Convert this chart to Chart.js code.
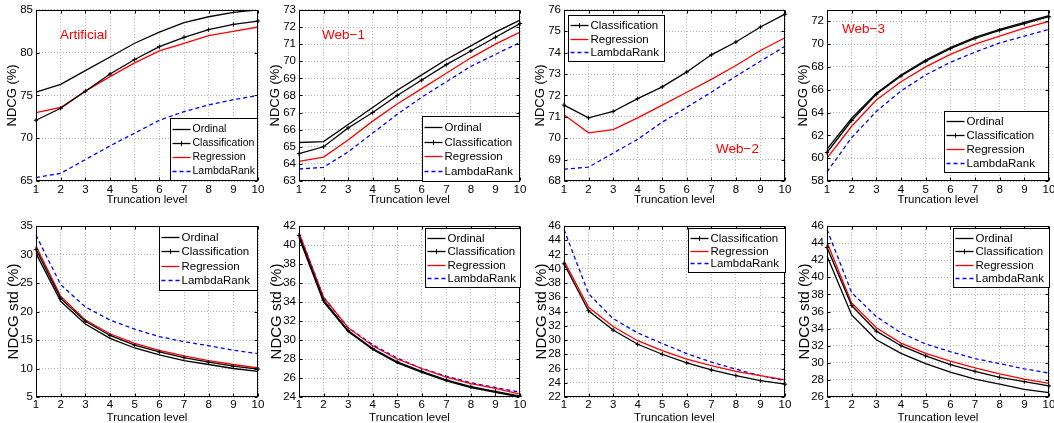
<!DOCTYPE html>
<html>
<head>
<meta charset="utf-8">
<script src="https://cdn.jsdelivr.net/npm/chart.js@4.4.1/dist/chart.umd.min.js"></script>
<style>
  html, body { margin: 0; padding: 0; background: #fff; overflow: hidden; }
  #wrap { position: relative; width: 1054px; height: 423px; overflow: hidden; }
  #wrap canvas { position: absolute; }
</style>
</head>
<body>
<div id="wrap"></div>
<script>
const levels = ['1', '2', '3', '4', '5', '6', '7', '8', '9', '10'];

// NDCG (%) - top row
const artOrd = [75.4, 76.3, 77.9, 79.5, 81.1, 82.4, 83.5, 84.2, 84.7, 85.0];
const artCls = [72.1, 73.5, 75.5, 77.5, 79.2, 80.7, 81.8, 82.7, 83.3, 83.7];
const artReg = [73.0, 73.6, 75.5, 77.2, 78.8, 80.2, 81.1, 82.0, 82.5, 83.0];
const artLam = [65.4, 65.9, 67.5, 69.1, 70.6, 72.1, 73.1, 73.9, 74.5, 75.0];

const w1Ord = [65.25, 65.3, 66.3, 67.3, 68.3, 69.2, 70.1, 70.9, 71.7, 72.4];
const w1Cls = [64.6, 65.0, 66.1, 67.0, 68.0, 68.9, 69.8, 70.6, 71.4, 72.2];
const w1Reg = [64.15, 64.4, 65.4, 66.5, 67.5, 68.4, 69.3, 70.2, 71.0, 71.7];
const w1Lam = [63.7, 63.8, 64.7, 65.8, 66.9, 67.9, 68.8, 69.7, 70.4, 71.1];

const w2Cls = [71.55, 70.95, 71.25, 71.85, 72.4, 73.1, 73.9, 74.5, 75.2, 75.8];
const w2Reg = [71.1, 70.25, 70.4, 70.95, 71.55, 72.15, 72.75, 73.4, 74.1, 74.7];
const w2Lam = [68.55, 68.65, 69.3, 69.95, 70.75, 71.45, 72.15, 72.9, 73.6, 74.3];

const w3Ord = [60.8, 63.5, 65.7, 67.3, 68.6, 69.7, 70.6, 71.3, 71.9, 72.5];
const w3Cls = [60.5, 63.3, 65.6, 67.2, 68.5, 69.6, 70.5, 71.2, 71.8, 72.4];
const w3Reg = [60.0, 62.8, 65.1, 66.7, 68.0, 69.1, 70.0, 70.7, 71.4, 72.0];
const w3Lam = [58.8, 61.8, 64.1, 65.9, 67.3, 68.4, 69.3, 70.1, 70.7, 71.3];

// NDCG std (%) - bottom row
const artOrdStd = [30.2, 21.8, 17.8, 15.3, 13.6, 12.4, 11.4, 10.7, 10.0, 9.5];
const artClsStd = [30.9, 22.3, 18.3, 15.8, 14.1, 12.9, 11.9, 11.1, 10.4, 9.9];
const artRegStd = [31.5, 22.7, 18.5, 16.1, 14.4, 13.2, 12.2, 11.4, 10.7, 10.1];
const artLamStd = [33.4, 24.7, 20.8, 18.5, 16.9, 15.6, 14.7, 14.0, 13.2, 12.6];

const w1OrdStd = [40.8, 34.0, 30.9, 29.0, 27.6, 26.6, 25.7, 25.0, 24.5, 24.0];
const w1ClsStd = [41.0, 34.2, 31.0, 29.1, 27.7, 26.7, 25.8, 25.1, 24.6, 24.1];
const w1RegStd = [41.3, 34.5, 31.3, 29.4, 28.0, 27.0, 26.1, 25.4, 24.9, 24.3];
const w1LamStd = [41.3, 34.5, 31.3, 29.5, 28.1, 27.0, 26.2, 25.5, 25.0, 24.5];

const w2ClsStd = [40.7, 34.1, 31.4, 29.4, 28.0, 26.8, 25.8, 25.0, 24.3, 23.8];
const w2RegStd = [41.1, 34.6, 31.9, 29.9, 28.5, 27.3, 26.4, 25.6, 25.0, 24.4];
const w2LamStd = [45.5, 36.5, 33.0, 31.0, 29.5, 28.1, 26.9, 25.9, 25.0, 24.3];

const w3OrdStd = [42.5, 35.6, 32.7, 31.1, 29.9, 28.9, 28.1, 27.5, 26.9, 26.5];
const w3ClsStd = [43.5, 36.7, 33.7, 32.0, 30.8, 29.8, 29.0, 28.3, 27.8, 27.3];
const w3RegStd = [44.1, 37.0, 34.1, 32.3, 31.1, 30.2, 29.4, 28.7, 28.1, 27.6];
const w3LamStd = [45.6, 38.2, 35.4, 33.5, 32.2, 31.3, 30.5, 29.9, 29.3, 28.8];

const FONT = '"Liberation Sans", Arial, Helvetica, sans-serif';
Chart.defaults.font.family = FONT;

const styles = {
  Ordinal: { borderColor: '#000', pointRadius: 0 },
  Classification: { borderColor: '#000', pointStyle: 'cross', pointRadius: 2.2, pointBorderColor: '#000', pointBorderWidth: 1 },
  Regression: { borderColor: '#ff0000', pointRadius: 0 },
  LambdaRank: { borderColor: '#0000ff', borderDash: [4, 3], pointRadius: 0 }
};

// plot = [left, top, right, bottom] of the axes box in page pixels
const panels = [
  { row: 0, plot: [36, 8, 258, 181], y: [65, 85, 5], yTitle: 'NDCG (%)',
    series: [['Ordinal', artOrd], ['Classification', artCls], ['Regression', artReg], ['LambdaRank', artLam]],
    tag: ['Artificial', 24, 25], legend: { at: 'br', dx: 1, dy: 1, w: 87, h: 62, size: 10.5 } },
  { row: 0, plot: [299, 8, 520, 181], y: [63, 73, 1], yTitle: 'NDCG (%)',
    series: [['Ordinal', w1Ord], ['Classification', w1Cls], ['Regression', w1Reg], ['LambdaRank', w1Lam]],
    tag: ['Web\u22121', 23, 25], legend: { at: 'br', dx: 1, dy: 0, w: 97, h: 65, size: 11.5 } },
  { row: 0, plot: [564, 8, 785, 181], y: [68, 76, 1], yTitle: 'NDCG (%)',
    series: [['Classification', w2Cls], ['Regression', w2Reg], ['LambdaRank', w2Lam]],
    tag: ['Web\u22122', 152, 139], legend: { at: 'tl', dx: 4, dy: 5, w: 96, h: 46, size: 11.5 } },
  { row: 0, plot: [827, 8, 1049, 181], y: [58, 73, 2], yTitle: 'NDCG (%)',
    series: [['Ordinal', w3Ord], ['Classification', w3Cls], ['Regression', w3Reg], ['LambdaRank', w3Lam]],
    tag: ['Web\u22123', 15, 19], legend: { at: 'br', dx: 1, dy: 9, w: 104, h: 61, size: 11.5 } },
  { row: 1, plot: [36, 226, 258, 397], y: [5, 35, 5], yTitle: 'NDCG std (%)',
    series: [['Ordinal', artOrdStd], ['Classification', artClsStd], ['Regression', artRegStd], ['LambdaRank', artLamStd]],
    legend: { at: 'tr', dx: 1, dy: 0, w: 98, h: 64, size: 11.5 } },
  { row: 1, plot: [299, 226, 520, 397], y: [24, 42, 2], yTitle: 'NDCG std (%)',
    series: [['Ordinal', w1OrdStd], ['Classification', w1ClsStd], ['Regression', w1RegStd], ['LambdaRank', w1LamStd]],
    legend: { at: 'tr', dx: 0, dy: 2, w: 95, h: 59, size: 11.5 } },
  { row: 1, plot: [564, 226, 785, 397], y: [22, 46, 2], yTitle: 'NDCG std (%)',
    series: [['Classification', w2ClsStd], ['Regression', w2RegStd], ['LambdaRank', w2LamStd]],
    legend: { at: 'tr', dx: 0, dy: 2, w: 97, h: 44, size: 11.5 } },
  { row: 1, plot: [827, 226, 1049, 397], y: [26, 46, 2], yTitle: 'NDCG std (%)',
    series: [['Ordinal', w3OrdStd], ['Classification', w3ClsStd], ['Regression', w3RegStd], ['LambdaRank', w3LamStd]],
    legend: { at: 'tr', dx: 0, dy: 2, w: 96, h: 59, size: 11.5 } }
];

// box, inward ticks, red dataset tag and the boxed legend (matlab look)
function makeDecor(p) {
  return {
    id: 'decor',
    afterDraw(chart) {
      const ctx = chart.ctx, a = chart.chartArea;
      const L = Math.round(a.left) + 0.5, T = Math.round(a.top) + 0.5;
      const R = Math.round(a.right) - 0.5, B = Math.round(a.bottom) - 0.5;
      ctx.save();
      ctx.strokeStyle = '#000';
      ctx.lineWidth = 1;
      ctx.setLineDash([]);
      ctx.strokeRect(L, T, R - L, B - T);

      const xs = chart.scales.x, ys = chart.scales.y;
      ctx.beginPath();
      xs.ticks.forEach((tk, i) => {
        const x = Math.round(xs.getPixelForTick(i)) + 0.5;
        ctx.moveTo(x, B); ctx.lineTo(x, B - 3);
        ctx.moveTo(x, T); ctx.lineTo(x, T + 3);
      });
      ys.ticks.forEach(tk => {
        const y = Math.round(ys.getPixelForValue(tk.value)) + 0.5;
        ctx.moveTo(L, y); ctx.lineTo(L + 3, y);
        ctx.moveTo(R, y); ctx.lineTo(R - 3, y);
      });
      ctx.stroke();

      if (p.tag) {
        ctx.fillStyle = '#ff0000';
        ctx.font = '13.5px ' + FONT;
        ctx.textAlign = 'left';
        ctx.textBaseline = 'middle';
        ctx.fillText(p.tag[0], a.left + p.tag[1], a.top + p.tag[2]);
      }

      const g = p.legend, dsets = chart.data.datasets;
      const bx = Math.round(g.at[1] === 'r' ? a.right - g.dx - g.w : a.left + g.dx) + 0.5;
      const by = Math.round(g.at[0] === 'b' ? a.bottom - g.dy - g.h : a.top + g.dy) + 0.5;
      ctx.fillStyle = '#fff';
      ctx.fillRect(bx, by, g.w, g.h);
      ctx.strokeStyle = '#000';
      ctx.strokeRect(bx, by, g.w, g.h);
      const rowH = (g.h - 6) / dsets.length;
      ctx.font = g.size + 'px ' + FONT;
      ctx.textAlign = 'left';
      ctx.textBaseline = 'middle';
      dsets.forEach((ds, i) => {
        const cy = Math.round(by + 3 + rowH * (i + 0.5)) + 0.5;
        ctx.strokeStyle = ds.borderColor;
        ctx.lineWidth = ds.borderWidth;
        ctx.setLineDash(ds.borderDash || []);
        ctx.beginPath();
        ctx.moveTo(bx + 2, cy); ctx.lineTo(bx + 20, cy);
        ctx.stroke();
        ctx.setLineDash([]);
        if (ds.pointStyle === 'cross') {
          ctx.lineWidth = 1;
          ctx.beginPath();
          ctx.moveTo(bx + 11, cy - 2.5); ctx.lineTo(bx + 11, cy + 2.5);
          ctx.moveTo(bx + 8.5, cy); ctx.lineTo(bx + 13.5, cy);
          ctx.stroke();
        }
        ctx.fillStyle = '#000';
        ctx.fillText(ds.label, bx + 22, cy);
      });
      ctx.restore();
    }
  };
}

const wrap = document.getElementById('wrap');

function makePanel(p) {
  const top = p.row === 0;
  const padTop = top ? 8 : 10;
  const xAxH = top ? 25 : 27;
  const yAxW = 31, padRight = 12;
  const [l, t, r, b] = p.plot;
  const W = yAxW + (r - l) + padRight;
  const H = padTop + (b - t) + xAxH;
  const cv = document.createElement('canvas');
  cv.width = W; cv.height = H;
  cv.style.width = W + 'px'; cv.style.height = H + 'px';
  cv.style.left = (l - yAxW) + 'px';
  cv.style.top = (t - padTop) + 'px';
  wrap.appendChild(cv);

  const [ymin, ymax, step] = p.y;
  const gridOpts = { color: '#b4b4b4', lineWidth: 1, drawTicks: false };

  new Chart(cv, {
    type: 'line',
    data: {
      labels: levels,
      datasets: p.series.map(([name, vals]) => Object.assign({
        label: name, data: vals, borderWidth: 1.3, fill: false, tension: 0
      }, styles[name]))
    },
    options: {
      responsive: false,
      animation: false,
      events: [],
      layout: { padding: { top: padTop, right: padRight, left: 0, bottom: 0 } },
      plugins: { legend: { display: false }, tooltip: { enabled: false } },
      scales: {
        x: {
          type: 'category',
          offset: false,
          grid: gridOpts,
          border: { display: false, dash: [1, 2] },
          ticks: { color: '#000', font: { size: 11.5 }, padding: top ? 2 : 1, autoSkip: false, maxRotation: 0 },
          title: { display: true, text: 'Truncation level', color: '#000', font: { size: 11.5, lineHeight: 1 }, padding: 0 },
          afterFit: s => { s.height = xAxH; }
        },
        y: {
          min: ymin, max: ymax,
          grid: gridOpts,
          border: { display: false, dash: [1, 2] },
          ticks: { color: '#000', font: { size: 11.5 }, padding: 3, autoSkip: false },
          afterBuildTicks: s => {
            const tks = [];
            for (let v = ymin; v <= ymax + 1e-9; v += step) tks.push({ value: v });
            s.ticks = tks;
          },
          title: { display: true, text: p.yTitle, color: '#000', font: { size: top ? 13 : 15 }, padding: { top: 0, bottom: 0 } },
          afterFit: s => { s.width = yAxW; }
        }
      }
    },
    plugins: [makeDecor(p)]
  });
}

panels.forEach(makePanel);
</script>
</body>
</html>
